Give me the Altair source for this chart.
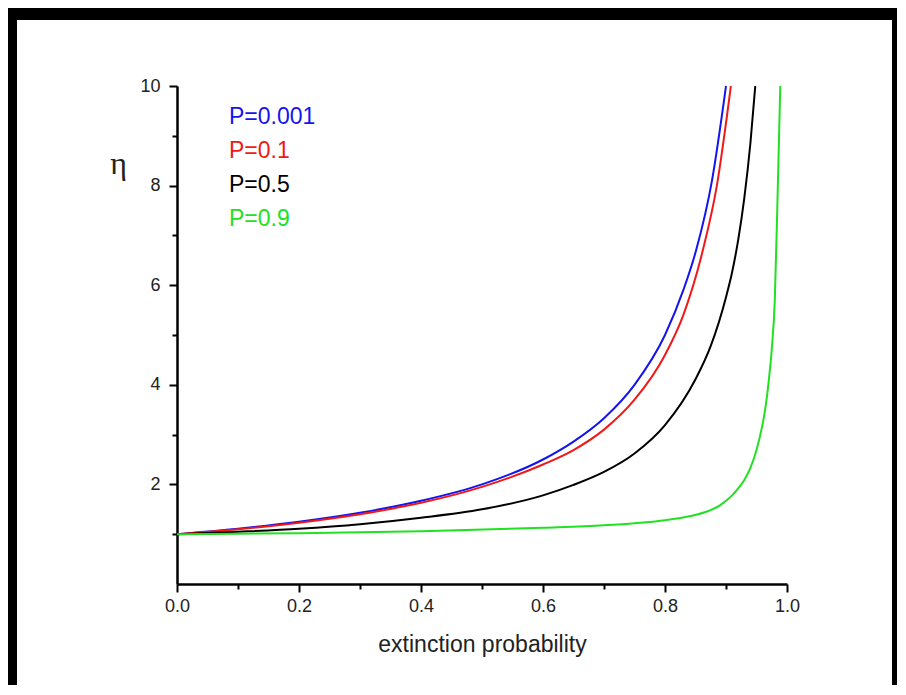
import altair as alt
import pandas as pd

labels = ["P=0.001", "P=0.1", "P=0.5", "P=0.9"]
colors = ["#1414f0", "#f01818", "#000000", "#22e022"]

q_blue = [0, 0.1, 0.2, 0.3, 0.4, 0.5, 0.6, 0.65, 0.7, 0.75, 0.8, 0.83, 0.851, 0.877, 0.9]
eta_blue = [1.0, 1.11, 1.25, 1.43, 1.67, 2.0, 2.5, 2.86, 3.33, 4.0, 5.0, 5.9, 6.7, 8.1, 10.0]

q_red = [0, 0.1, 0.2, 0.3, 0.4, 0.5, 0.6, 0.65, 0.7, 0.75, 0.8, 0.83, 0.862, 0.885, 0.908]
eta_red = [1.0, 1.10, 1.23, 1.40, 1.63, 1.95, 2.40, 2.69, 3.1, 3.7, 4.6, 5.4, 6.7, 8.0, 10.0]

q_black = [0, 0.1, 0.2, 0.3, 0.4, 0.5, 0.6, 0.65, 0.7, 0.75, 0.8, 0.85, 0.875, 0.9, 0.91, 0.92, 0.93, 0.94, 0.948]
eta_black = [1.0, 1.05, 1.11, 1.20, 1.33, 1.50, 1.78, 1.99, 2.25, 2.62, 3.19, 4.11, 4.78, 5.76, 6.26, 6.91, 7.75, 8.85, 10.0]

q_green = [0, 0.2, 0.4, 0.6, 0.7, 0.8, 0.84, 0.87, 0.89, 0.9, 0.91, 0.92, 0.93, 0.94, 0.95, 0.96, 0.965, 0.97, 0.975, 0.98, 0.985, 0.989]
eta_green = [1.0, 1.02, 1.06, 1.13, 1.18, 1.28, 1.36, 1.46, 1.58, 1.67, 1.78, 1.92, 2.09, 2.33, 2.69, 3.21, 3.57, 4.07, 4.71, 5.70, 8.0, 10.0]

x_ticks = [round(i * 0.1, 1) for i in range(11)]
y_ticks = list(range(1, 11))

rows = []
for lab, qs, es in zip(labels, [q_blue, q_red, q_black, q_green],
                       [eta_blue, eta_red, eta_black, eta_green]):
    for a, b in zip(qs, es):
        rows.append({"series": lab, "q": a, "eta": b})
df = pd.DataFrame(rows)

lines = alt.Chart(df).mark_line(strokeWidth=2, interpolate="monotone").encode(
    x=alt.X("q:Q", scale=alt.Scale(domain=[0, 1], nice=False),
            axis=alt.Axis(title="extinction probability", values=x_ticks,
                          labelExpr="round(datum.value*10) % 2 == 0 ? format(datum.value, '.1f') : ''",
                          tickSize={"condition": {"test": "round(datum.value*10) % 2 == 0", "value": 8}, "value": 5},
                          labelPadding=5, titlePadding=18, labelFlush=False)),
    y=alt.Y("eta:Q", scale=alt.Scale(domain=[0, 10], nice=False),
            axis=alt.Axis(title="η", values=y_ticks,
                          labelExpr="datum.value % 2 == 0 ? datum.label : ''",
                          tickSize={"condition": {"test": "datum.value % 2 == 0", "value": 8}, "value": 5},
                          labelPadding=9, titleAngle=0, titleX=-59, titleY=77,
                          titleAlign="center", titleBaseline="middle",
                          titleFont="Liberation Serif", titleFontSize=32)),
    color=alt.Color("series:N", scale=alt.Scale(domain=labels, range=colors),
                    legend=alt.Legend(title=None, orient="none", legendX=29, legendY=19,
                                      symbolOpacity=0, symbolSize=0, symbolStrokeWidth=0,
                                      labelFont="Liberation Sans", labelFontSize=23,
                                      labelColor=alt.ExprRef(expr="scale('color', datum.value)"),
                                      rowPadding=10, labelOffset=0, padding=0)),
)

one = pd.DataFrame({"a": [0]})
top_band = alt.Chart(one).mark_rect(color="black").encode(
    x=alt.value(-169), x2=alt.value(720), y=alt.value(-78), y2=alt.value(-66))
left_band = alt.Chart(one).mark_rect(color="black").encode(
    x=alt.value(-169), x2=alt.value(-160), y=alt.value(-78), y2=alt.value(601))
right_band = alt.Chart(one).mark_rect(color="black").encode(
    x=alt.value(715), x2=alt.value(720), y=alt.value(-78), y2=alt.value(601))

chart = alt.layer(top_band, left_band, right_band, lines).properties(
    width=610, height=498,
    autosize=alt.AutoSizeParams(type="none"),
    padding={"left": 169, "top": 78, "right": 110, "bottom": 101},
).configure_view(stroke=None).configure_axis(
    domainColor="black", domainWidth=2.5, tickColor="black", tickWidth=2,
    labelFont="Liberation Sans", labelFontSize=18, labelColor="#222",
    titleFont="Liberation Sans", titleFontSize=23, titleFontWeight="normal",
    titleColor="#222", grid=False,
)

chart.save("out.html", embed_options={"renderer": "svg", "actions": False})
